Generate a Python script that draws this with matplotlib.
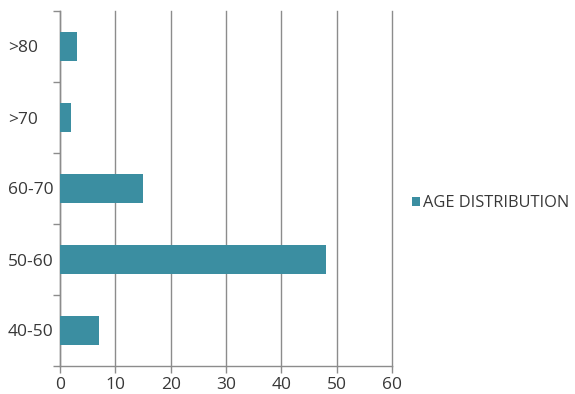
import matplotlib
matplotlib.use("Agg")
import matplotlib.pyplot as plt
import numpy as np

# age groups, bottom to top
categories = ["40-50", "50-60", "60-70", ">70", ">80"]
values = [7, 48, 15, 2, 3]
series_name = "AGE DISTRIBUTION"
x_ticks = [0, 10, 20, 30, 40, 50, 60]

BAR_COLOR = "#3b8ea1"
GRID_COLOR = "#8c8c8c"
TEXT_COLOR = "#383838"

plt.rcParams["font.family"] = ["Open Sans", "DejaVu Sans"]

fig = plt.figure(figsize=(5.75, 3.94), dpi=100)
ax = fig.add_axes([60 / 575, 28 / 394, 332 / 575, 355 / 394])

y = np.arange(len(categories))
bars = ax.barh(y, values, height=0.4, color=BAR_COLOR, label=series_name, zorder=3)

ax.set_xlim(0, 60)
ax.set_ylim(-0.5, len(categories) - 0.5)
ax.set_xticks(x_ticks)
ax.set_xticklabels([str(t) for t in x_ticks], fontsize=12.5, color=TEXT_COLOR)

# category labels left-aligned, tick marks at category boundaries
ax.set_yticks(y)
ax.set_yticklabels(categories, fontsize=12.5, color=TEXT_COLOR)
for lab in ax.get_yticklabels():
    lab.set_horizontalalignment("left")
ax.tick_params(axis="y", which="major", length=0, pad=52 * 72 / 100)
ax.set_yticks(np.arange(-0.5, len(categories)), minor=True)
ax.tick_params(axis="y", which="minor", length=5, color=GRID_COLOR, width=1)
ax.tick_params(axis="x", length=5, color=GRID_COLOR, width=1, pad=3)

ax.grid(axis="x", color=GRID_COLOR, linewidth=1, zorder=0)
for gl in ax.get_xgridlines():
    gl.set_clip_on(False)
for side in ["top", "right"]:
    ax.spines[side].set_visible(False)
for side in ["left", "bottom"]:
    ax.spines[side].set_color(GRID_COLOR)
    ax.spines[side].set_linewidth(1)

fig.legend(handles=[bars], loc="center left", bbox_to_anchor=(397 / 575, 1 - 203 / 394),
           frameon=False, fontsize=11.8, handlelength=0.5, handleheight=0.5,
           handletextpad=0.2, labelcolor=TEXT_COLOR)

fig.savefig("out.png", dpi=100)
